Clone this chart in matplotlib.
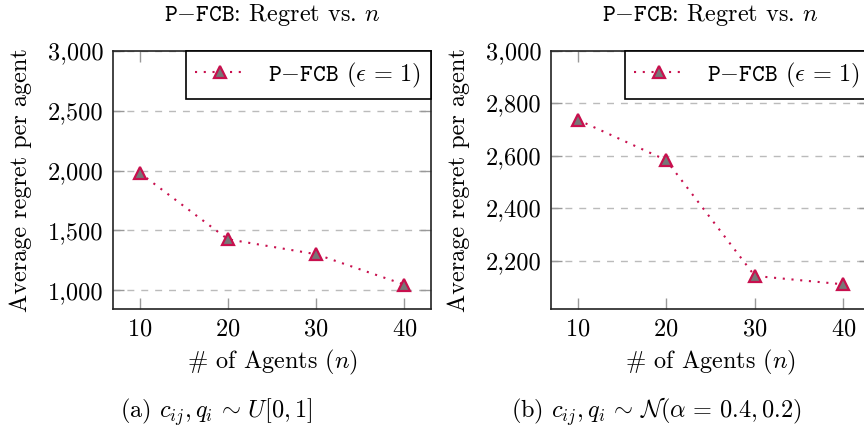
import matplotlib
matplotlib.use("Agg")
import matplotlib.pyplot as plt
from matplotlib.ticker import FuncFormatter

plt.rcParams['font.family'] = 'serif'
plt.rcParams['font.serif'] = ['cmr10']
plt.rcParams['mathtext.fontset'] = 'cm'
plt.rcParams['axes.formatter.use_mathtext'] = True
plt.rcParams['font.size'] = 17.5

# data
agents = [10, 20, 30, 40]
regret_uniform = [1982, 1427, 1302, 1048]
regret_normal = [2737, 2583, 2142, 2110]

yticks_a = [1000, 1500, 2000, 2500, 3000]
yticks_b = [2200, 2400, 2600, 2800, 3000]

title = r"$\mathtt{P{-}FCB}$: Regret vs. $n$"
legend_label = r"$\mathtt{P{-}FCB}$ ($\epsilon \,=\, 1$)"
captions = [r"(a) $c_{ij}, q_i \,\sim\, U[0, 1]$",
            r"(b) $c_{ij}, q_i \,\sim\, \mathcal{N}(\alpha \,=\, 0.4, 0.2)$"]

line_color = '#c8104e'

fig = plt.figure(figsize=(8.64, 4.30), dpi=100)
ax1 = fig.add_axes([113/864, 121/430, 318/864, 258.3/430])
ax2 = fig.add_axes([551/864, 121/430, 319/864, 258.3/430])


def style(ax, yvals, yticks, ylim):
    ax.plot(agents, yvals, color=line_color, linestyle=(0, (1, 3.2)), lw=1.5,
            marker='^', markersize=9, markerfacecolor='#777777',
            markeredgecolor=line_color, markeredgewidth=1.6, label=legend_label)
    ax.set_xlim(7, 43)
    ax.set_ylim(*ylim)
    ax.set_xticks(agents)
    ax.set_yticks(yticks)
    ax.yaxis.set_major_formatter(FuncFormatter(lambda v, p: f"{v:,.0f}"))
    ax.tick_params(direction='in', length=8, width=1, color='#999999',
                   top=True, right=True, pad=7)
    ax.grid(axis='y', color='#bbbbbb', linestyle=(0, (5, 5)), lw=1)
    ax.set_axisbelow(True)
    for s in ax.spines.values():
        s.set_linewidth(1.2)
        s.set_color('#222222')
    ax.set_ylabel("Average regret per agent")
    ax.yaxis.set_label_coords(-0.29, 0.5)
    ax.yaxis.label.set_va('center')
    ax.set_xlabel(r"# of Agents ($n$)")
    ax.xaxis.set_label_coords(0.5, -0.205)
    ax.xaxis.label.set_va('center')
    ax.text(0.5, 1.138, title, transform=ax.transAxes, ha='center', va='center')
    leg = ax.legend(loc='upper right', borderaxespad=0, fancybox=False,
                    edgecolor='black', framealpha=1, handlelength=2.0,
                    handletextpad=1.0, borderpad=0.4)
    leg.get_frame().set_linewidth(1.2)


style(ax1, regret_uniform, yticks_a, (845, 3000))
style(ax2, regret_normal, yticks_b, (2016, 3000))

fig.text(216/864, 18/430, captions[0], ha='center', va='center')
fig.text(656/864, 18/430, captions[1], ha='center', va='center')

fig.savefig("out.png", dpi=100)
